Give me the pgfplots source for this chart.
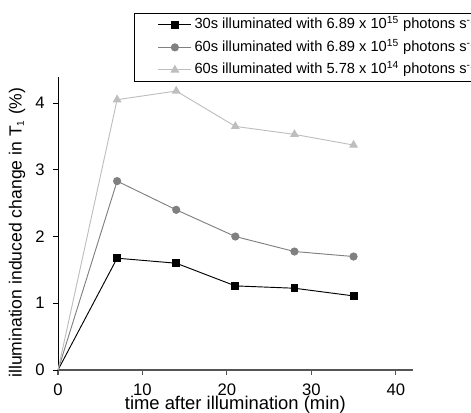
\documentclass[border=0pt]{standalone}
\usepackage{pgfplots}
\pgfplotsset{compat=1.18}
\usepackage{fontspec}
\setmainfont{Liberation Sans}
\definecolor{sgray}{RGB}{128,128,128}
\definecolor{slight}{RGB}{190,190,190}
\definecolor{axgray}{RGB}{85,85,85}
\begin{document}
\begin{tikzpicture}
\begin{axis}[
  at={(0pt,0pt)}, anchor=origin,
  scale only axis,
  width=266pt, height=219.75pt,
  xmin=0, xmax=42, ymin=0, ymax=4.39,
  axis x line=bottom, axis y line=left,
  axis line style={-},
  x axis line style={draw=axgray, line width=1.1pt},
  y axis line style={draw=black, line width=0.6pt},
  xtick={0,10,20,30,40}, ytick={0,1,2,3,4},
  tick align=outside,
  major tick length=3.75pt,
  xtick style={draw=axgray, line width=0.8pt},
  ytick style={draw=black, line width=0.6pt},
  /pgf/number format/assume math mode=true,
  tick label style={font=\fontsize{12.5}{14}\selectfont},
  xticklabel style={anchor=north, inner sep=0pt, yshift=-6.5pt},
  yticklabel style={anchor=east, inner sep=0pt, xshift=-6pt},
  label style={font=\fontsize{13.8}{16}\selectfont},
  xlabel={time after illumination (min)},
  ylabel={\fontsize{13.2}{15}\selectfont illumination induced change in T\textsubscript{\fontsize{7.5}{9}\selectfont 1} (\%)},
  xlabel style={at={(axis description cs:0.5,-0.119)}, anchor=center},
  ylabel style={at={(axis description cs:-0.1156,0.469)}, anchor=center},
  legend style={at={(axis description cs:0.2143,1.218)}, anchor=north west,
    draw=black, line width=0.6pt, font=\fontsize{11}{13}\selectfont,
    inner xsep=0pt, inner ysep=1pt, row sep=1.9pt,
    nodes={inner sep=2pt, text height=8.5pt, text depth=2.5pt}},
  legend cell align=left,
  legend image code/.code={
    \path (0cm,0cm);
    \draw[#1, mark=none] (0.62cm,0cm) -- (1.49cm,0cm);
    \draw[#1, only marks, mark indices={1}] plot coordinates {(1.055cm,0cm)};},
  clip=false,
]
\addplot[black, line width=0.7pt, mark=square*, mark size=2.6pt, mark indices={2,3,4,5,6}]
  coordinates {(0,0) (7,1.675) (14,1.60) (21,1.26) (28,1.225) (35,1.11)};
\addlegendentry{30s illuminated with 6.89 x 10\textsuperscript{15} photons s\textsuperscript{-1}}
\addplot[sgray, line width=0.7pt, mark=*, mark size=2.7pt, mark indices={2,3,4,5,6}]
  coordinates {(0,0) (7,2.83) (14,2.40) (21,2.00) (28,1.775) (35,1.70)};
\addlegendentry{60s illuminated with 6.89 x 10\textsuperscript{15} photons s\textsuperscript{-1}}
\addplot[slight, line width=0.7pt, mark=triangle*, mark size=3.2pt, mark indices={2,3,4,5,6}]
  coordinates {(0,0) (7,4.05) (14,4.18) (21,3.65) (28,3.53) (35,3.37)};
\addlegendentry{60s illuminated with 5.78 x 10\textsuperscript{14} photons s\textsuperscript{-1}}
\end{axis}
\pgfresetboundingbox
\path[use as bounding box] (-43.5pt,-32.25pt) rectangle (309.75pt,277.5pt);
\end{tikzpicture}
\end{document}
